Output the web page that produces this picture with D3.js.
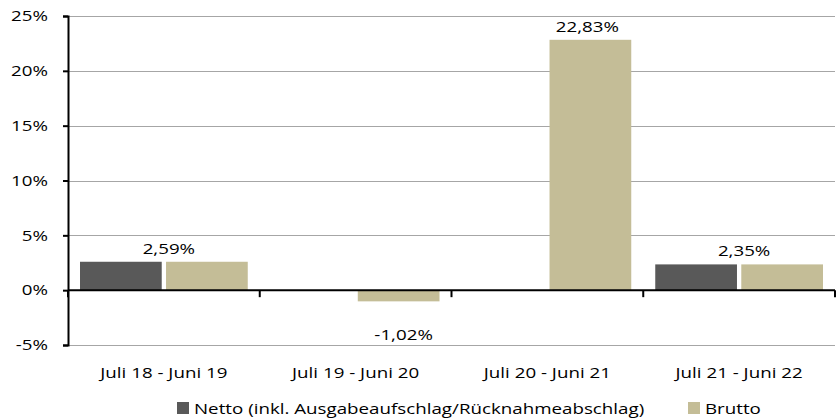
<!DOCTYPE html>
<html>
<head>
<meta charset="utf-8">
<script src="https://cdn.jsdelivr.net/npm/d3@7"></script>
<style>
  body { margin: 0; background: #fff; }
  text { font-family: "Open Sans", sans-serif; fill: #000; font-size: 15px; }
</style>
</head>
<body>
<div id="chart"></div>
<script>
// data
var categories = ["Juli 18 - Juni 19", "Juli 19 - Juni 20", "Juli 20 - Juni 21", "Juli 21 - Juni 22"];
var netto = [2.59, null, null, 2.35];
var brutto = [2.59, -1.02, 22.83, 2.35];
var labelValues = [2.59, -1.02, 22.83, 2.35];
var yTicks = [-5, 0, 5, 10, 15, 20, 25];
var seriesNames = ["Netto (inkl. Ausgabeaufschlag/Rücknahmeabschlag)", "Brutto"];
var colors = ["#595959", "#c4bd97"];

var width = 840, height = 420;
var margin = {top: 16, right: 5, bottom: 75, left: 68};
var sx = 1.25; // the original text is drawn wide

var svg = d3.select("#chart")
  .append("svg")
    .attr("width", width)
    .attr("height", height);

var x = d3.scaleBand()
  .domain(categories)
  .range([margin.left, width - margin.right])
  .padding(0);

var y = d3.scaleLinear()
  .domain([-5, 25])
  .range([height - margin.bottom, margin.top]);

var xs = d3.scaleBand()
  .domain(["netto", "brutto"])
  .range([12, x.bandwidth() - 12])
  .paddingInner(0.05);

var pct = d => d3.format(".2f")(d).replace(".", ",").replace("\u2212", "-") + "%";
var place = (px, py) => "translate(" + px + "," + py + ") scale(" + sx + ",1)";

// gridlines
svg.append("g")
  .selectAll("line")
  .data(yTicks)
  .join("line")
    .attr("x1", margin.left)
    .attr("x2", width - margin.right)
    .attr("y1", d => Math.round(y(d)) + 0.5)
    .attr("y2", d => Math.round(y(d)) + 0.5)
    .attr("stroke", "#a6a6a6")
    .attr("stroke-width", 1);

// bars
var groups = svg.append("g")
  .selectAll("g")
  .data(categories)
  .join("g")
    .attr("transform", d => "translate(" + x(d) + ",0)");

groups.each(function(c, i) {
  var g = d3.select(this);
  [["netto", netto[i], colors[0]], ["brutto", brutto[i], colors[1]]].forEach(function(s) {
    if (s[1] == null) return;
    g.append("rect")
      .attr("x", xs(s[0]))
      .attr("width", xs.bandwidth())
      .attr("y", y(Math.max(0, s[1])))
      .attr("height", Math.abs(y(s[1]) - y(0)))
      .attr("fill", s[2]);
  });
});

// value labels
svg.append("g")
  .selectAll("text")
  .data(labelValues)
  .join("text")
    .attr("transform", function(d, i) {
      var px = netto[i] == null
        ? x(categories[i]) + xs("brutto") + xs.bandwidth() / 2 + (d < 0 ? 5 : -3)
        : x(categories[i]) + x.bandwidth() / 2 + 5;
      var py = d < 0 ? y(0) + 50 : y(d) - 8;
      return place(px, py);
    })
    .attr("text-anchor", "middle")
    .text(pct);

// y axis
var yAxis = svg.append("g")
  .attr("transform", "translate(" + margin.left + ",0)")
  .call(d3.axisLeft(y).tickValues(yTicks).tickSize(5).tickFormat(d => (d + "%").replace("\u2212", "-")));
yAxis.select(".domain").attr("stroke", "#000").attr("stroke-width", 2);
yAxis.selectAll(".tick line").attr("stroke", "#000").attr("stroke-width", 2);
yAxis.selectAll(".tick text")
  .attr("x", 0)
  .attr("transform", place(-20, 0))
  .style("font-size", "15px")
  .style("font-family", "'Open Sans', sans-serif")
  .attr("fill", "#000");

// zero line with category ticks
var xAxis = svg.append("g")
  .attr("transform", "translate(0," + y(0) + ")");
xAxis.append("line")
  .attr("x1", margin.left)
  .attr("x2", width - margin.right)
  .attr("stroke", "#000")
  .attr("stroke-width", 2);
xAxis.selectAll(".ctick")
  .data(categories.map(c => x(c)).concat([width - margin.right]))
  .join("line")
    .attr("class", "ctick")
    .attr("x1", d => d)
    .attr("x2", d => d)
    .attr("y1", 0)
    .attr("y2", 7)
    .attr("stroke", "#000")
    .attr("stroke-width", 2);

// category labels
svg.append("g")
  .selectAll("text")
  .data(categories)
  .join("text")
    .attr("transform", d => place(x(d) + x.bandwidth() / 2, 378))
    .attr("text-anchor", "middle")
    .text(d => d);

// legend
var legendX = [177, 688];
var legend = svg.append("g")
  .selectAll("g")
  .data(seriesNames)
  .join("g")
    .attr("transform", (d, i) => "translate(" + legendX[i] + ",402)");
legend.append("rect")
  .attr("width", 12)
  .attr("height", 12)
  .attr("fill", (d, i) => colors[i]);
legend.append("text")
  .attr("transform", place(17, 12))
  .text(d => d);
</script>
</body>
</html>
